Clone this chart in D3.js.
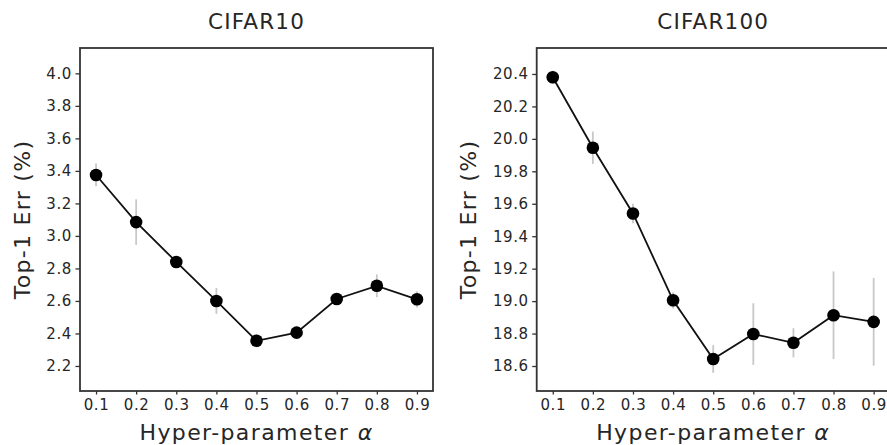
<!DOCTYPE html>
<html>
<head>
<meta charset="utf-8">
<script src="https://cdn.jsdelivr.net/npm/d3@7"></script>
<style>
  body { margin: 0; background: #fff; }
  text { font-family: "DejaVu Sans", sans-serif; fill: #262626; }
</style>
</head>
<body>
<div class="chart_area"></div>
<script>
var alphas = [0.1, 0.2, 0.3, 0.4, 0.5, 0.6, 0.7, 0.8, 0.9];

var cifar10_err = [3.375, 3.085, 2.84, 2.60, 2.355, 2.405, 2.612, 2.693, 2.61];
var cifar10_std = [0.07, 0.14, 0.03, 0.08, 0.04, 0.03, 0.03, 0.07, 0.05];

var cifar100_err = [20.38, 19.945, 19.54, 19.005, 18.643, 18.797, 18.743, 18.913, 18.872];
var cifar100_std = [0.04, 0.10, 0.06, 0.05, 0.085, 0.19, 0.09, 0.27, 0.27];

var cifar10_ticks = [2.2, 2.4, 2.6, 2.8, 3.0, 3.2, 3.4, 3.6, 3.8, 4.0];
var cifar100_ticks = [18.6, 18.8, 19.0, 19.2, 19.4, 19.6, 19.8, 20.0, 20.2, 20.4];

var svg = d3.select(".chart_area")
  .append("svg")
  .attr("width", 887)
  .attr("height", 445);

var panel_w = 353, panel_h = 343, panel_top = 48;

function drawPanel(left, title, err, std, yDomain, yTicks, labelOffset) {
  var g = svg.append("g")
      .attr("transform", "translate(" + left + "," + panel_top + ")");

  var x = d3.scaleLinear().domain([0.06, 0.94]).range([0, panel_w]);
  var y = d3.scaleLinear().domain(yDomain).range([panel_h, 0]);

  var xAxis = g.append("g")
      .attr("transform", "translate(0," + panel_h + ")")
      .call(d3.axisBottom(x).tickValues(alphas).tickFormat(d3.format(".1f"))
        .tickSize(3.5).tickSizeOuter(0).tickPadding(5));
  var yAxis = g.append("g")
      .call(d3.axisLeft(y).tickValues(yTicks).tickFormat(d3.format(".1f"))
        .tickSize(4.5).tickSizeOuter(0).tickPadding(3.5));

  [xAxis, yAxis].forEach(a => {
    a.select(".domain").remove();
    a.selectAll(".tick line").attr("stroke", "#333").attr("stroke-width", 1.3);
    a.selectAll(".tick text")
      .style("font-family", "DejaVu Sans")
      .style("font-size", "15px")
      .style("letter-spacing", "0.6px")
      .attr("fill", "#333");
  });

  var pts = alphas.map((a, i) => ({a: a, v: err[i], s: std[i]}));

  g.selectAll(".errbar")
      .data(pts)
      .enter()
      .append("line")
        .attr("class", "errbar")
        .attr("x1", d => x(d.a))
        .attr("x2", d => x(d.a))
        .attr("y1", d => y(d.v - d.s))
        .attr("y2", d => y(d.v + d.s))
        .attr("stroke", "#c8c8c8")
        .attr("stroke-width", 1.8);

  g.append("path")
      .datum(pts)
      .attr("fill", "none")
      .attr("stroke", "#111")
      .attr("stroke-width", 1.8)
      .attr("d", d3.line().x(d => x(d.a)).y(d => y(d.v)));

  g.selectAll(".dot")
      .data(pts)
      .enter()
      .append("circle")
        .attr("class", "dot")
        .attr("cx", d => x(d.a))
        .attr("cy", d => y(d.v))
        .attr("r", 6.3)
        .attr("fill", "#000");

  g.append("rect")
      .attr("width", panel_w)
      .attr("height", panel_h)
      .attr("fill", "none")
      .attr("stroke", "#333")
      .attr("stroke-width", 1.8);

  g.append("text")
      .attr("x", panel_w / 2)
      .attr("y", 28.5 - panel_top)
      .attr("text-anchor", "middle")
      .style("font-size", "21.5px")
      .style("letter-spacing", "1.2px")
      .text(title);

  g.append("text")
      .attr("x", panel_w / 2)
      .attr("y", 440 - panel_top)
      .attr("text-anchor", "middle")
      .style("font-size", "22px")
      .style("letter-spacing", "1.4px")
      .text("Hyper-parameter ")
      .append("tspan")
        .style("font-style", "italic")
        .text("α");

  g.append("text")
      .attr("transform", "translate(" + (-labelOffset) + "," + (panel_h / 2) + ") rotate(-90)")
      .attr("text-anchor", "middle")
      .style("font-size", "22px")
      .style("letter-spacing", "1.3px")
      .text("Top-1 Err (%)");
}

drawPanel(80, "CIFAR10", cifar10_err, cifar10_std, [2.046, 4.156], cifar10_ticks, 50.5);
drawPanel(536.7, "CIFAR100", cifar100_err, cifar100_std, [18.446, 20.56], cifar100_ticks, 61);
</script>
</body>
</html>
